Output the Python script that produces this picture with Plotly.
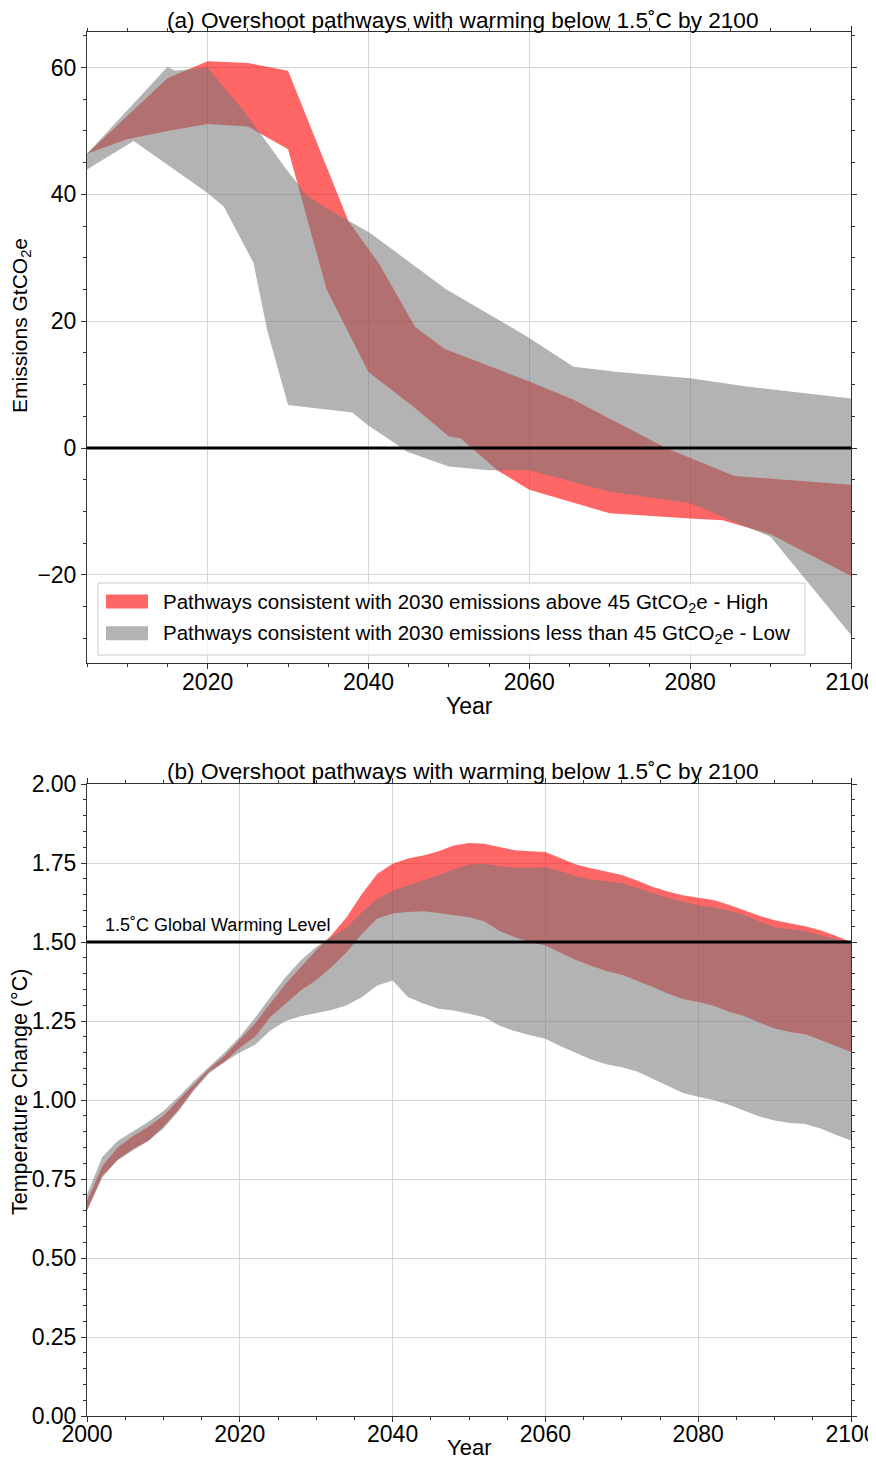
import plotly.graph_objects as go

FONT = "Liberation Sans, Arial, sans-serif"

# ---------------- Panel (a): emissions envelopes (GtCO2e) ----------------
high_upper_years = [2005, 2010, 2015, 2020, 2025, 2030, 2037.5, 2041.4, 2045.8, 2049.5,
                    2060, 2065.5, 2077, 2085.5, 2090, 2100]
high_upper = [46.4, 52.3, 58.3, 61.0, 60.7, 59.5, 35.8, 28.9, 19.1, 15.6,
              10.5, 7.6, 0.0, -4.4, -4.8, -5.8]
high_lower_years = [2005, 2010, 2015, 2020, 2025, 2027, 2030, 2034.8, 2040, 2045.6,
                    2050, 2051.5, 2056, 2060, 2070, 2080, 2084, 2090, 2100]
high_lower = [46.4, 48.7, 50.0, 51.1, 50.7, 49.3, 47.1, 25.0, 12.0, 6.5,
              1.8, 1.5, -3.5, -6.6, -10.3, -11.1, -11.4, -13.6, -20.2]
low_upper_years = [2005, 2015, 2016, 2020, 2024.2, 2026.5, 2029.8, 2032.3, 2034.8, 2037.7,
                   2040.2, 2049.7, 2059.7, 2065.5, 2071, 2080, 2087, 2100]
low_upper = [46.4, 60.1, 59.5, 60.0, 53.6, 49.7, 43.9, 39.9, 37.8, 35.7,
             33.9, 25.0, 17.6, 12.8, 12.0, 11.0, 9.7, 7.8]
low_lower_years = [2005, 2010.8, 2020, 2022, 2025.7, 2027.4, 2030, 2038, 2040, 2041.5,
                   2044.8, 2050, 2055, 2060, 2070, 2080, 2085, 2088, 2090, 2100]
low_lower = [43.9, 48.4, 40.2, 38.1, 29.2, 18.6, 6.8, 5.6, 3.5, 2.3,
             -0.6, -2.9, -3.5, -3.5, -6.9, -8.7, -11.4, -12.9, -14.0, -29.5]
zero_years = [2005, 2100]
zero_level = [0, 0]

# ---------------- Panel (b): temperature envelopes (°C) ----------------
temp_years = list(range(2000, 2101, 2))
temp_high_upper = [0.68, 0.79, 0.85, 0.885, 0.915, 0.95, 1.00, 1.05, 1.10, 1.14,
                   1.19, 1.242, 1.305, 1.368, 1.421, 1.474, 1.521, 1.579, 1.653, 1.716,
                   1.748, 1.764, 1.774, 1.787, 1.805, 1.813, 1.811, 1.80, 1.79, 1.787,
                   1.785, 1.765, 1.745, 1.733, 1.722, 1.712, 1.695, 1.675, 1.66, 1.648,
                   1.64, 1.633, 1.618, 1.60, 1.583, 1.569, 1.56, 1.55, 1.537, 1.52, 1.50]
temp_high_lower = [0.65, 0.76, 0.81, 0.845, 0.87, 0.915, 0.97, 1.035, 1.09, 1.12,
                   1.165, 1.20, 1.263, 1.305, 1.347, 1.379, 1.421, 1.468, 1.526, 1.574,
                   1.590, 1.595, 1.597, 1.592, 1.586, 1.578, 1.566, 1.535, 1.515, 1.50,
                   1.489, 1.465, 1.443, 1.425, 1.408, 1.396, 1.378, 1.358, 1.337, 1.32,
                   1.31, 1.298, 1.28, 1.266, 1.245, 1.226, 1.215, 1.208, 1.19, 1.17, 1.152]
temp_low_upper = [0.70, 0.82, 0.87, 0.90, 0.93, 0.965, 1.01, 1.06, 1.105, 1.15,
                  1.20, 1.26, 1.326, 1.389, 1.442, 1.484, 1.516, 1.547, 1.595, 1.637,
                  1.663, 1.679, 1.693, 1.711, 1.73, 1.745, 1.748, 1.74, 1.736, 1.735,
                  1.737, 1.725, 1.708, 1.698, 1.692, 1.686, 1.672, 1.655, 1.64, 1.628,
                  1.616, 1.61, 1.60, 1.586, 1.565, 1.547, 1.54, 1.535, 1.521, 1.51, 1.50]
temp_low_lower = [0.65, 0.755, 0.81, 0.84, 0.87, 0.91, 0.965, 1.03, 1.085, 1.12,
                  1.15, 1.175, 1.22, 1.25, 1.265, 1.275, 1.285, 1.30, 1.326, 1.362,
                  1.378, 1.326, 1.305, 1.289, 1.283, 1.273, 1.262, 1.235, 1.218, 1.205,
                  1.194, 1.17, 1.148, 1.128, 1.113, 1.104, 1.09, 1.068, 1.045, 1.022,
                  1.01, 1.0, 0.985, 0.967, 0.948, 0.935, 0.927, 0.924, 0.91, 0.89, 0.872]
gwl_years = [2000, 2100]
gwl_level = [1.5, 1.5]

RED_FILL = "rgba(255,0,0,0.6)"
GRAY_FILL = "rgba(119,119,119,0.56)"
RED_PATCH = "#ff6666"
GRAY_PATCH = "#b3b3b3"

label_high = "Pathways consistent with 2030 emissions above 45 GtCO<sub>2</sub>e - High"
label_low = "Pathways consistent with 2030 emissions less than 45 GtCO<sub>2</sub>e - Low"

fig = go.Figure()

def band(xl, yl, xu, yu, color, name, xa, ya):
    fig.add_trace(go.Scatter(x=xl, y=yl, mode="lines", line=dict(width=0, color=color),
                             showlegend=False, hoverinfo="skip", xaxis=xa, yaxis=ya))
    fig.add_trace(go.Scatter(x=xu, y=yu, mode="lines", line=dict(width=0, color=color),
                             fill="tonexty", fillcolor=color, name=name,
                             showlegend=False, hoverinfo="skip", xaxis=xa, yaxis=ya))

# panel (a)
band(high_lower_years, high_lower, high_upper_years, high_upper, RED_FILL, label_high, "x", "y")
band(low_lower_years, low_lower, low_upper_years, low_upper, GRAY_FILL, label_low, "x", "y")
fig.add_trace(go.Scatter(x=zero_years, y=zero_level, mode="lines", line=dict(color="black", width=3),
                         showlegend=False, hoverinfo="skip", xaxis="x", yaxis="y"))

# panel (b)
band(temp_years, temp_high_lower, temp_years, temp_high_upper, RED_FILL, label_high, "x2", "y2")
band(temp_years, temp_low_lower, temp_years, temp_low_upper, GRAY_FILL, label_low, "x2", "y2")
fig.add_trace(go.Scatter(x=gwl_years, y=gwl_level, mode="lines", line=dict(color="black", width=3),
                         showlegend=False, hoverinfo="skip", xaxis="x2", yaxis="y2"))

# page body has an 8px margin -> figure coordinates = window coordinates - 8
OFF = 8.0
FW, FH = 868.0, 1454.0
L, R = 87.0 - OFF, 851.0 - OFF
W = R - L

def px_x(p):
    return (p - OFF - L) / W

def px_y(p):
    return 1 - (p - OFF) / FH

axis_common = dict(showline=True, linecolor="#333333", linewidth=1, mirror="ticks",
                   ticks="outside", ticklen=5, tickwidth=1, tickcolor="#333333",
                   showgrid=True, gridcolor="#d6d6d6", gridwidth=1, zeroline=False,
                   ticklabeloverflow="allow",
                   tickfont=dict(size=23, color="black", family=FONT))

fig.update_layout(
    width=FW, height=FH,
    margin=dict(l=L, r=FW - R, t=0, b=0, autoexpand=False),
    paper_bgcolor="white", plot_bgcolor="white",
    font=dict(family=FONT, color="black"),
    showlegend=False,
    xaxis=dict(domain=[0, 1], range=[2005, 2100], tick0=2000, dtick=20, anchor="y",
               ticklabelstandoff=-7,
               minor=dict(ticks="outside", ticklen=3, tickcolor="#333333", dtick=5, tick0=2000, showgrid=False),
               **axis_common),
    yaxis=dict(domain=[px_y(663), px_y(32)], range=[-33.9, 65.6], tick0=0, dtick=20, anchor="x",
               minor=dict(ticks="outside", ticklen=3, tickcolor="#333333", dtick=5, tick0=0, showgrid=False),
               **axis_common),
    xaxis2=dict(domain=[0, 1], range=[2000, 2100], tick0=2000, dtick=20, anchor="y2",
                ticklabelstandoff=-8,
                minor=dict(ticks="outside", ticklen=3, tickcolor="#333333", dtick=5, tick0=2000, showgrid=False),
                **axis_common),
    yaxis2=dict(domain=[px_y(1416), px_y(784)], range=[0, 2], tick0=0, dtick=0.25, tickformat=".2f",
                anchor="x2",
                minor=dict(ticks="outside", ticklen=3, tickcolor="#333333", dtick=0.05, tick0=0, showgrid=False),
                **axis_common),
)

# legend box (panel a), drawn like matplotlib's legend
fig.add_shape(type="rect", xref="paper", yref="paper", x0=px_x(98), x1=px_x(805), y0=px_y(655), y1=px_y(583),
              fillcolor="rgba(255,255,255,0.8)", line=dict(color="#cccccc", width=1), layer="above")
legend_rows = [(label_high, RED_PATCH, 601.5), (label_low, GRAY_PATCH, 633.3)]
for text, col, yc in legend_rows:
    fig.add_shape(type="rect", xref="paper", yref="paper", x0=px_x(106), x1=px_x(148),
                  y0=px_y(yc + 7), y1=px_y(yc - 7), fillcolor=col, line=dict(width=0), layer="above")
    fig.add_annotation(xref="paper", yref="paper", showarrow=False, xanchor="left", yanchor="middle",
                       text=text, x=px_x(161), y=px_y(yc + 1),
                       font=dict(family=FONT, color="black", size=20.5))

ann = [
    dict(text="(a) Overshoot pathways with warming below 1.5˚C by 2100", x=px_x(462), y=px_y(21), size=22.6),
    dict(text="(b) Overshoot pathways with warming below 1.5˚C by 2100", x=px_x(462), y=px_y(771), size=22.6),
    dict(text="Emissions GtCO<sub>2</sub>e", x=px_x(21), y=px_y(326), textangle=-90, size=21),
    dict(text="Temperature Change (°C)", x=px_x(20), y=px_y(1092), textangle=-90, size=21.5),
    dict(text="Year", x=px_x(469), y=px_y(706), size=23),
    dict(text="Year", x=px_x(469), y=px_y(1447), size=22),
]
for a in ann:
    size = a.pop("size")
    fig.add_annotation(xref="paper", yref="paper", showarrow=False, xanchor="center", yanchor="middle",
                       font=dict(family=FONT, color="black", size=size), **a)
fig.add_annotation(xref="paper", yref="paper", showarrow=False, xanchor="left", yanchor="middle",
                   text="1.5˚C Global Warming Level", x=px_x(103), y=px_y(925),
                   font=dict(family=FONT, color="black", size=18))

fig.write_html("out.html")
